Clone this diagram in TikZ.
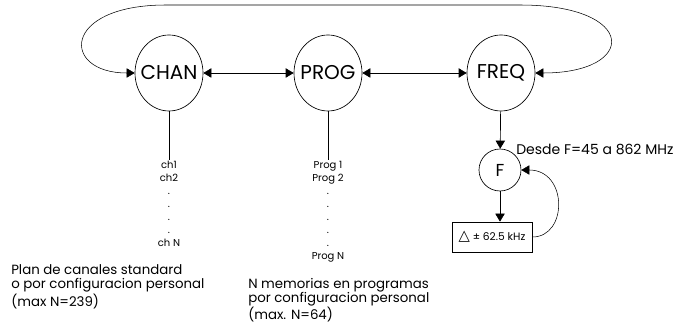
\documentclass[tikz,border=0pt]{standalone}
\usepackage{fontspec}
\setmainfont{Poppins}
\newfontfamily\symfont{DejaVu Sans}
\usetikzlibrary{positioning,shapes.geometric,arrows.meta,calc}

\begin{document}
\begin{tikzpicture}[
    x=0.75pt, y=-0.75pt,
    state/.style={ellipse, draw, line width=0.5pt, minimum width=51pt, minimum height=57pt, inner sep=0pt},
    statelabel/.style={font=\fontsize{15}{15}\selectfont},
    fnode/.style={circle, draw, line width=0.5pt, minimum size=31.5pt, inner sep=0pt, font=\fontsize{13}{13}\selectfont},
    deltabox/.style={rectangle, draw, line width=0.5pt, minimum width=60pt, minimum height=22.5pt, inner sep=1pt, font=\fontsize{8}{8}\selectfont},
    list/.style={align=center, inner sep=1pt, font=\fontsize{7.5}{9.75}\selectfont},
    note/.style={align=left, inner sep=0pt, font=\fontsize{10}{10.9}\selectfont},
    arrow/.style={-{Triangle[length=6pt,width=7pt]}, line width=0.5pt},
    biarrow/.style={{Triangle[length=6pt,width=7pt]}-{Triangle[length=6pt,width=7pt]}, line width=0.5pt},
    loop/.style={{Triangle[length=6pt,width=7pt]}-{Triangle[length=6pt,width=7pt]}, line width=0.4pt}
]
\useasboundingbox (0,0) rectangle (681,327);

% ===== MODES =====
\node[state, label={[statelabel]center:CHAN}] (chan) at (169,73) {};
\node[state, label={[statelabel]center:PROG}] (prog) at (328,73) {};
\node[state, label={[statelabel]center:FREQ}] (freq) at (501,73) {};

% ===== LISTS =====
\node[list, anchor=north] (chlist) at (169,160) {ch1\\ch2\\.\\.\\.\\.\\ch N};
\node[list, anchor=north] (proglist) at (328,160) {Prog 1\\Prog 2\\.\\.\\.\\.\\.\\Prog N};

% ===== FREQUENCY =====
\node[fnode] (fcirc) at (500,170) {F};
\node[deltabox] (dbox) at (492,237) {{\symfont\fontsize{11}{11}\selectfont △}\ ± 62.5 kHz};
\node[anchor=west, inner sep=0pt, font=\fontsize{10.5}{10.5}\selectfont] (range) at (516,149) {Desde F=45 a 862 MHz};

% ===== NOTES =====
% (base = last line)
\node[note, anchor=base west] (plan) at (11,306) {Plan de canales standard\\o por configuracion personal\\(max N=239)};
\node[note, anchor=base west] (memo) at (248,320) {N memorias en programas\\por configuracion personal\\(max. N=64)};

% ===== ARROWS =====
\draw[biarrow] (chan.east) -- (prog.west);
\draw[biarrow] (prog.east) -- (freq.west);
\draw[loop] (chan.west) .. controls (61,73) and (61,5) .. (166,5) -- (520,5) .. controls (638,5) and (638,73) .. (freq.east);
\draw[line width=0.5pt] (chan) -- (chlist);
\draw[line width=0.5pt] (prog) -- (proglist);
\draw[arrow] (freq) -- (fcirc);
\draw[arrow] (fcirc.south) -- (fcirc.south |- dbox.north);
\draw[-{Triangle[length=6pt,width=7pt]}, line width=0.4pt] (dbox.east) .. controls (568,237) and (568,170) .. (fcirc.east);

\end{tikzpicture}
\end{document}
